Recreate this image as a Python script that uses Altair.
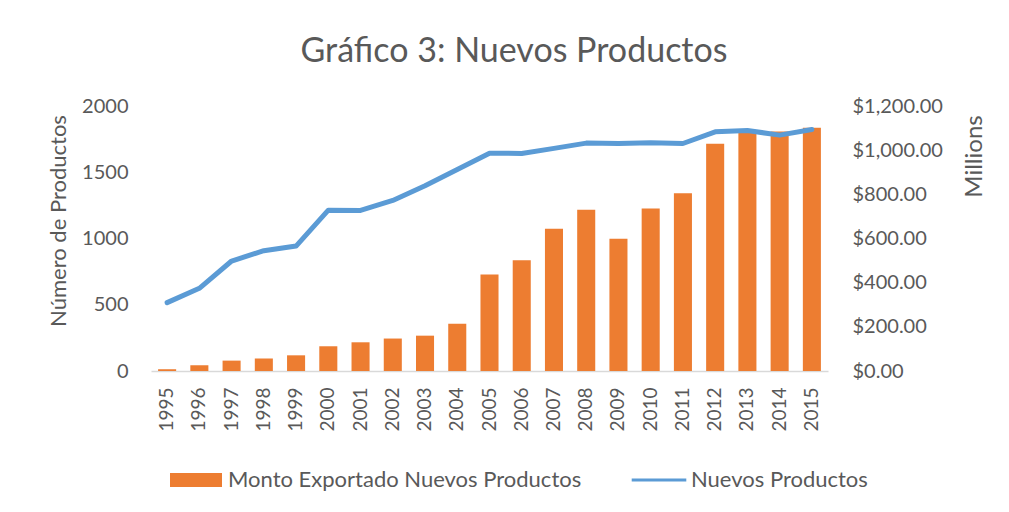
import altair as alt
import pandas as pd

years = [str(y) for y in range(1995, 2016)]
monto_millones = [8, 26, 47, 57, 71, 112, 130, 147, 160, 214, 437, 501, 644, 730, 599, 736, 805, 1029, 1082, 1085, 1101]
nuevos_productos = [516, 624, 830, 908, 943, 1214, 1212, 1287, 1398, 1521, 1644, 1642, 1680, 1720, 1717, 1722, 1717, 1805, 1815, 1780, 1823]
series_names = ["Monto Exportado Nuevos Productos", "Nuevos Productos"]
series_colors = ["#ED7D31", "#5B9BD5"]
legend_shapes = ["M-1,-0.27H1V0.27H-1Z", "M-1.05,-0.06H1.05V0.06H-1.05Z"]
left_ticks = [0, 500, 1000, 1500, 2000]
right_ticks = [0, 200, 400, 600, 800, 1000, 1200]

df = pd.DataFrame({"year": years, "monto": monto_millones, "nuevos": nuevos_productos})
leg = pd.DataFrame({"serie": series_names})

TXT = "#595959"
FONT = "Lato"

x_enc = alt.X(
    "year:N", title=None, sort=years,
    scale=alt.Scale(paddingInner=0.44, paddingOuter=0.22),
    axis=alt.Axis(labelAngle=270, labelPadding=16, domainColor="#D9D9D9", domainWidth=1.5,
                  ticks=False, labelFontSize=19, grid=False),
)

bars = alt.Chart(df).mark_bar(color="#ED7D31").encode(
    x=x_enc,
    y=alt.Y("monto:Q", scale=alt.Scale(domain=[0, 1200]),
            axis=alt.Axis(orient="right", values=right_ticks, format="$,.2f", title="Millions",
                          labelPadding=24, ticks=False, domain=False, grid=False, labelFontSize=20,
                          titleFontSize=24, titleAngle=270, titleX=146, titleY=50,
                          titleAlign="center", titleBaseline="middle")),
)

line = alt.Chart(df).mark_line(color="#5B9BD5", strokeWidth=5, strokeCap="round", strokeJoin="round").encode(
    x=x_enc,
    y=alt.Y("nuevos:Q", scale=alt.Scale(domain=[0, 2000]),
            axis=alt.Axis(orient="left", values=left_ticks, format="d", title="Número de Productos",
                          labelPadding=23, ticks=False, domain=False, grid=False, labelFontSize=20,
                          titleFontSize=22, titleAngle=270, titleX=-93, titleY=114.5,
                          titleAlign="center", titleBaseline="middle")),
)

legend_def = alt.Legend(orient="none", legendX=19, legendY=348, direction="horizontal", title=None,
                        symbolSize=2704, labelOffset=6, columnPadding=49, labelFontSize=22,
                        labelColor=TXT, labelFont=FONT, symbolOpacity=1, padding=0, labelLimit=0,
                        symbolStrokeWidth=0)

legend_layer = alt.Chart(leg).mark_point(filled=True, opacity=0).encode(
    color=alt.Color("serie:N", sort=series_names,
                    scale=alt.Scale(domain=series_names, range=series_colors), legend=legend_def),
    shape=alt.Shape("serie:N", sort=series_names,
                    scale=alt.Scale(domain=series_names, range=legend_shapes), legend=legend_def),
)

chart = alt.layer(bars, line, legend_layer).resolve_scale(y="independent").properties(
    width=677, height=265,
    autosize=alt.AutoSizeParams(type="none"),
    padding={"left": 143, "top": 98, "right": 172, "bottom": 132},
    title=alt.TitleParams("Gráfico 3: Nuevos Productos", fontSize=34, font=FONT, color=TXT,
                          fontWeight="normal", anchor="middle", dx=24.5, offset=27),
).configure_view(stroke=None).configure_axis(
    labelColor=TXT, titleColor=TXT, labelFont=FONT, titleFont=FONT, titleFontWeight="normal"
)

chart.save("out.html", embed_options={"renderer": "svg", "actions": False})
